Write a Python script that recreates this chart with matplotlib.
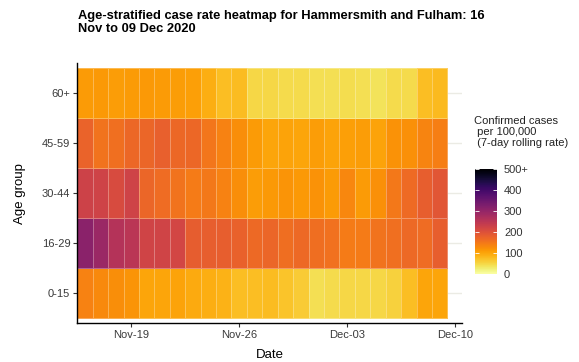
import numpy as np
import pandas as pd
import matplotlib
matplotlib.use('Agg')
import matplotlib.pyplot as plt
import matplotlib.dates as mdates

plt.rcParams['font.family'] = ['Liberation Sans', 'DejaVu Sans']

# daily 7-day case rates per 100,000, 16 Nov - 09 Dec 2020
dates = pd.date_range('2020-11-16', '2020-12-09')
age_groups = ['0-15', '16-29', '30-44', '45-59', '60+']
rate_0_15 = [138, 130, 124, 118, 100, 100, 102, 95, 90, 87, 75, 75, 78, 70, 62, 42, 45, 50, 50, 50, 55, 75, 100, 100]
rate_16_29 = [312, 292, 258, 250, 222, 222, 218, 183, 180, 180, 177, 167, 170, 162, 167, 162, 158, 146, 145, 156, 160, 167, 163, 180]
rate_30_44 = [225, 224, 210, 223, 170, 163, 155, 145, 150, 138, 124, 108, 112, 118, 112, 120, 111, 132, 111, 122, 150, 166, 180, 193]
rate_45_59 = [175, 155, 160, 168, 170, 178, 169, 169, 152, 138, 124, 110, 100, 102, 100, 108, 103, 106, 108, 103, 120, 122, 135, 142]
rate_60 = [110, 112, 108, 110, 112, 110, 108, 106, 90, 76, 77, 50, 50, 46, 46, 42, 42, 44, 42, 38, 45, 46, 76, 80]
tick_dates = ['2020-11-19', '2020-11-26', '2020-12-03', '2020-12-10']
cbar_ticks = [0, 100, 200, 300, 400, 500]
cbar_labels = ['0', '100', '200', '300', '400', '500+']

W, H = 579, 362
fig = plt.figure(figsize=(W / 100, H / 100), dpi=100)
ax = fig.add_axes([77.3 / W, 1 - 323.3 / H, (461.7 - 77.3) / W, (323.3 - 63) / H])

z = np.array([rate_0_15, rate_16_29, rate_30_44, rate_45_59, rate_60])
xnum = mdates.date2num(dates)
xedges = np.append(xnum - 0.5, xnum[-1] + 0.5)
yedges = np.arange(len(age_groups) + 1) - 0.5

ax.yaxis.grid(True, color='#ebebe4', lw=1.0, zorder=0)
ax.set_axisbelow(True)
mesh = ax.pcolormesh(xedges, yedges, z, cmap='inferno_r', vmin=0, vmax=500,
                     edgecolor=(1, 1, 1, 0.3), linewidth=0.6, zorder=2)

ax.set_xlim(xnum[0] - 0.5, xnum[0] - 0.5 + 24.93)
ax.set_ylim(-0.61, 4.6)
ax.set_yticks(range(len(age_groups)))
ax.set_yticklabels(age_groups)
ax.set_xticks(mdates.date2num(pd.to_datetime(tick_dates)))
ax.xaxis.set_major_formatter(mdates.DateFormatter('%b-%d'))

for s in ['top', 'right']:
    ax.spines[s].set_visible(False)
for s in ['left', 'bottom']:
    ax.spines[s].set_linewidth(1.0)
    ax.spines[s].set_color('black')
ax.tick_params(length=3, width=0.8, color='#333333', labelsize=8, labelcolor='#3a3a3a', pad=2)

ax.set_xlabel('Date', fontsize=9.5, labelpad=6)
ax.set_ylabel('Age group', fontsize=9.5, labelpad=11)

fig.text(78 / W, 1 - 9.5 / H, 'Age-stratified case rate heatmap for Hammersmith and Fulham: 16\nNov to 09 Dec 2020',
         fontsize=9.3, fontweight='bold', va='top', ha='left', linespacing=1.12)

# legend
fig.text(474 / W, 1 - 115.5 / H, 'Confirmed cases\n per 100,000\n (7-day rolling rate)',
         fontsize=8, va='top', ha='left', linespacing=1.15, color='#222222')
cax = fig.add_axes([475 / W, 1 - 274 / H, 22 / W, 105 / H])
cb = fig.colorbar(mesh, cax=cax)
cb.outline.set_visible(False)
cb.set_ticks(cbar_ticks)
cb.set_ticklabels(cbar_labels)
cax.tick_params(direction='in', length=3, width=0.6, color='white', left=True, right=True,
                labelsize=8, labelcolor='#333333', pad=5)

fig.savefig('out.png', dpi=100)
